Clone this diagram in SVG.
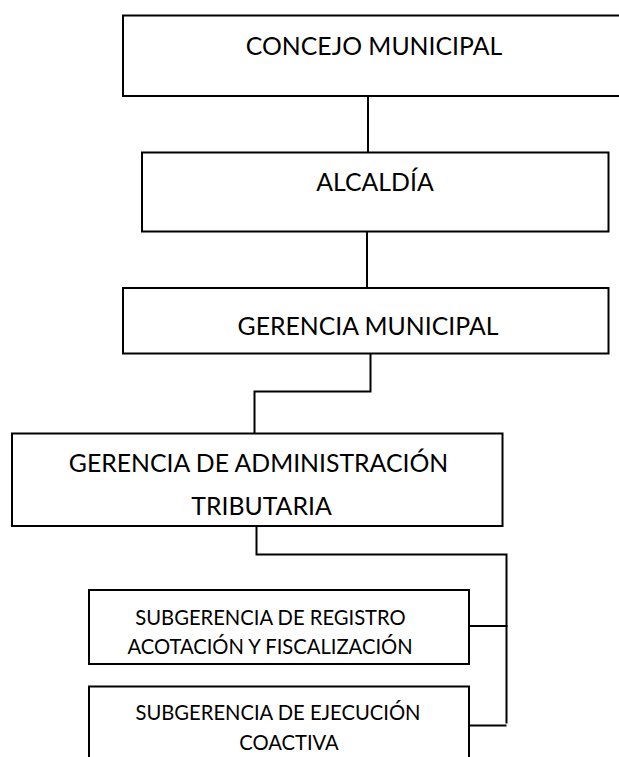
<svg xmlns="http://www.w3.org/2000/svg" width="619" height="757" viewBox="0 0 619 757">
<style>
.box{fill:#fff;stroke:#000;stroke-width:2}
.lbl{font-family:Lato,"Open Sans","Liberation Sans",sans-serif;fill:#000;text-anchor:middle}
.big{font-size:24.8px}
.small{font-size:20.2px}
.conn{fill:none;stroke:#000;stroke-width:2}
</style>
<rect width="619" height="757" fill="#fff"/>
<g id="connectors">
<path class="conn" d="M368 96V153"/>
<path class="conn" d="M367 231V288"/>
<path class="conn" d="M370.5 354V391.5H254.5V433"/>
<path class="conn" d="M256.5 526V554.5H506.5V723.5"/>
<path class="conn" d="M469 626H507.5"/>
<path class="conn" d="M469 725.5H506.5"/>
</g>
<g id="n1">
<rect class="box" x="123" y="15.5" width="510" height="80.5"/>
<text class="lbl big" x="374" y="55">CONCEJO MUNICIPAL</text>
</g>
<g id="n2">
<rect class="box" x="142" y="152.5" width="466.5" height="79"/>
<text class="lbl big" x="375" y="190.5">ALCALDÍA</text>
</g>
<g id="n3">
<rect class="box" x="123" y="288" width="485.5" height="65.5"/>
<text class="lbl big" x="368" y="335">GERENCIA MUNICIPAL</text>
</g>
<g id="n4">
<rect class="box" x="12" y="433.5" width="490.5" height="92.5"/>
<text class="lbl big" x="258.5" y="471.5">GERENCIA DE ADMINISTRACIÓN</text>
<text class="lbl big" x="261.5" y="514.5">TRIBUTARIA</text>
</g>
<g id="n5">
<rect class="box" x="89" y="590" width="380" height="74"/>
<text class="lbl small" x="270.5" y="624.5">SUBGERENCIA DE REGISTRO</text>
<text class="lbl small" x="270" y="653.5">ACOTACIÓN Y FISCALIZACIÓN</text>
</g>
<g id="n6">
<rect class="box" x="89" y="686.5" width="380" height="90"/>
<text class="lbl small" x="278" y="719.5">SUBGERENCIA DE EJECUCIÓN</text>
<text class="lbl small" x="289" y="749.5">COACTIVA</text>
</g>
</svg>
